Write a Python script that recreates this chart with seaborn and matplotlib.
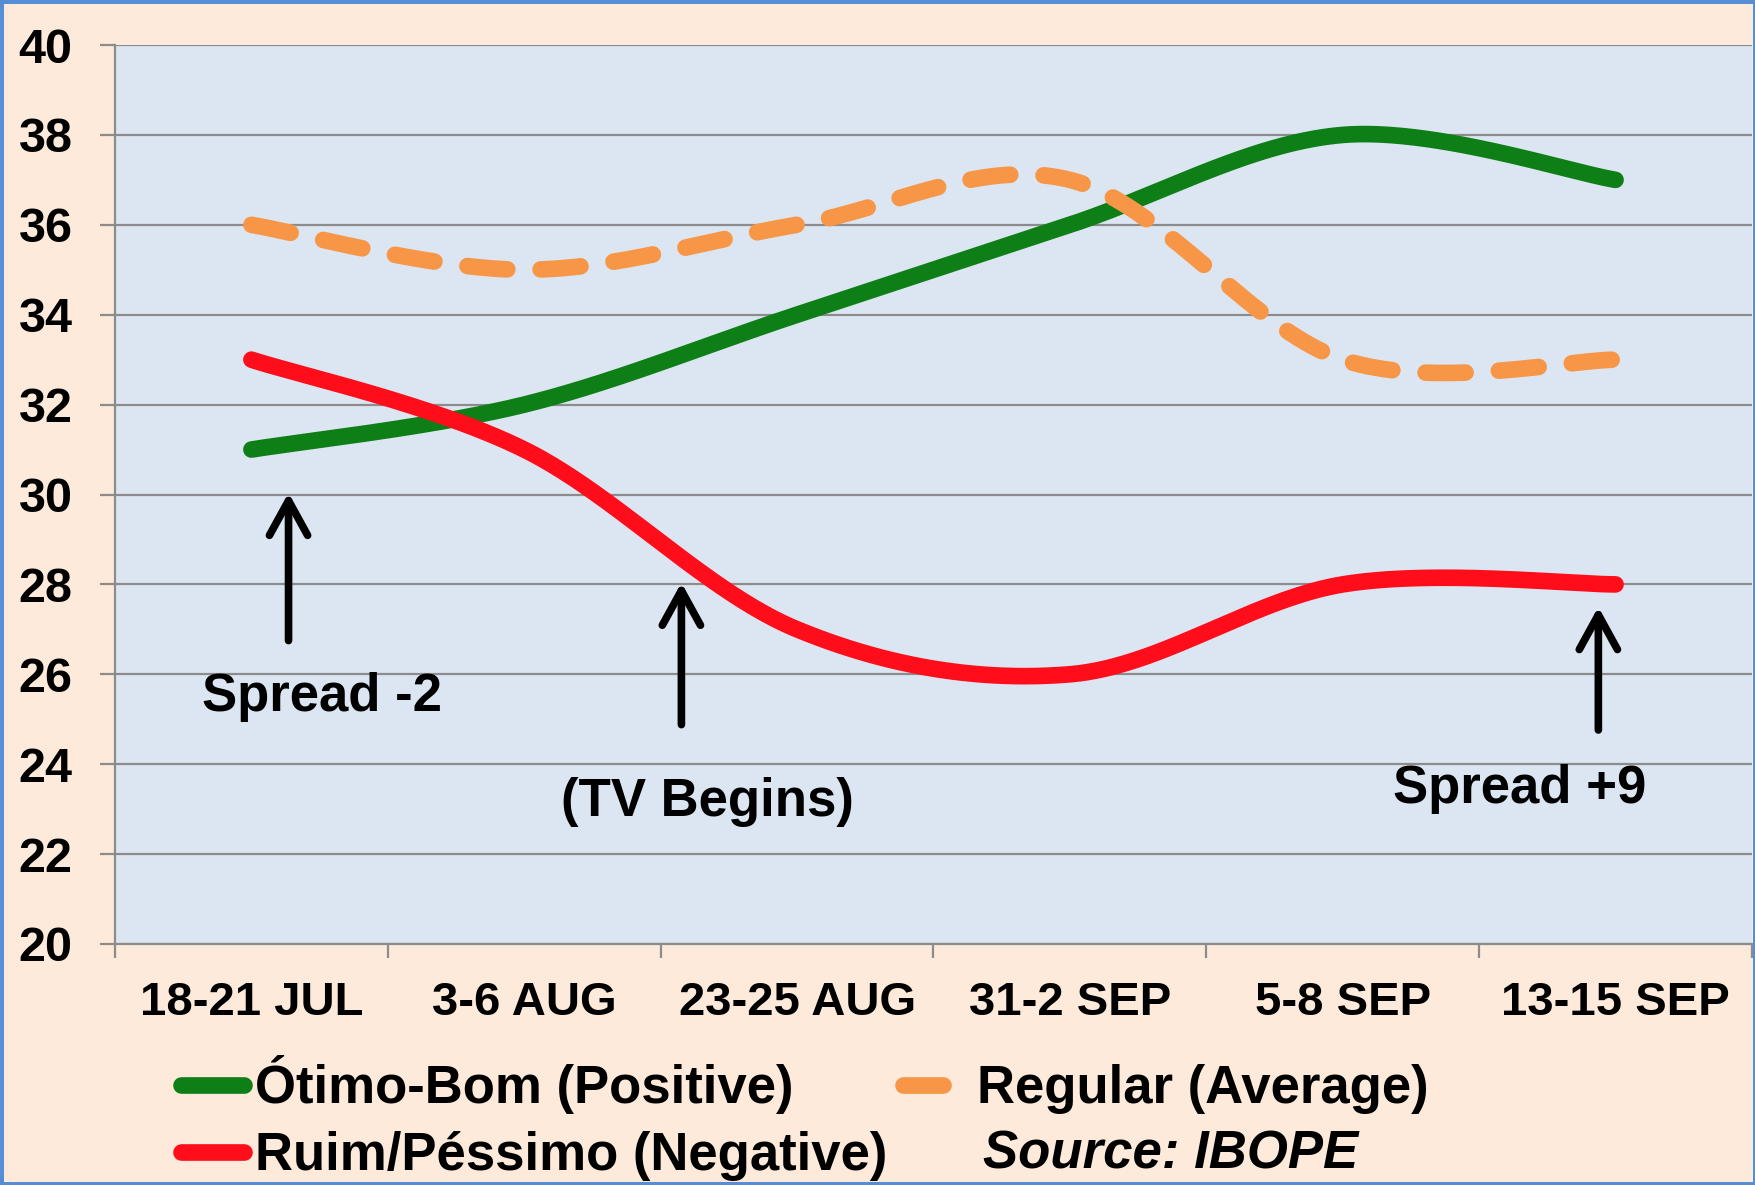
import numpy as np
import pandas as pd
import matplotlib
matplotlib.use("Agg")
import matplotlib.pyplot as plt
import seaborn as sns

periodos = ["18-21 JUL", "3-6 AUG", "23-25 AUG", "31-2 SEP", "5-8 SEP", "13-15 SEP"]
positivo = [31, 32, 34, 36, 38, 37]
regular = [36, 35, 36, 37, 33, 33]
negativo = [33, 31, 27, 26, 28, 28]

nomes = ["Ótimo-Bom (Positive)", "Regular (Average)", "Ruim/Péssimo (Negative)"]
colors = ["#0E7F16", "#F79646", "#FF0D1A"]

sns.set_theme(style="ticks")
plt.rcParams["font.family"] = ["Liberation Sans", "DejaVu Sans"]
plt.rcParams["font.weight"] = "bold"
plt.rcParams["text.color"] = "black"
plt.rcParams["xtick.labelcolor"] = "black"
plt.rcParams["ytick.labelcolor"] = "black"


def suavizar(valores, n=80):
    # linha suavizada como no Excel (bezier, controles a 1/6)
    y = np.asarray(valores, dtype=float)
    x = np.arange(len(y), dtype=float)
    px = np.concatenate([[x[0]], x, [x[-1]]])
    py = np.concatenate([[y[0]], y, [y[-1]]])
    t = np.linspace(0, 1, n)
    xs, ys = [], []
    for i in range(len(y) - 1):
        p0 = np.array([px[i + 1], py[i + 1]])
        p3 = np.array([px[i + 2], py[i + 2]])
        c1 = p0 + (p3 - np.array([px[i], py[i]])) / 6
        c2 = p3 - (np.array([px[i + 3], py[i + 3]]) - p0) / 6
        b = ((1 - t) ** 3)[:, None] * p0 + (3 * (1 - t) ** 2 * t)[:, None] * c1 \
            + (3 * (1 - t) * t ** 2)[:, None] * c2 + (t ** 3)[:, None] * p3
        xs.append(b[:, 0])
        ys.append(b[:, 1])
    return pd.DataFrame({"x": np.concatenate(xs), "y": np.concatenate(ys)})


fig = plt.figure(figsize=(17.56, 11.85), dpi=100)
fig.patch.set_facecolor("#FDEADA")
fig.patch.set_edgecolor("#558ED5")
fig.patch.set_linewidth(5)
ax = fig.add_axes([0.0655, 0.2034, 0.9322, 0.7586])
ax.set_facecolor("#DCE6F2")

handles = []
for serie, nome, cor in zip([positivo, regular, negativo], nomes, colors):
    curva = suavizar(serie)
    sns.lineplot(data=curva, x="x", y="y", ax=ax, color=cor, linewidth=12,
                 solid_capstyle="round", dash_capstyle="round", sort=False,
                 estimator=None, label=nome)
    linha = ax.lines[-1]
    if nome.startswith("Regular"):
        linha.set_dashes((2.4, 2.0))
    handles.append(linha)

ax.set_xlim(-0.5, 5.5)
ax.set_ylim(20, 40)
ax.set_yticks(range(20, 41, 2))
ax.set_xticks(range(len(periodos)))
ax.set_xticklabels(periodos)
ax.set_xticks(np.arange(-0.5, 6, 1), minor=True)
ax.set(xlabel="", ylabel="")

ax.grid(axis="y", color="#8C8C8C", linewidth=1.6)
ax.set_axisbelow(True)
for lado in ["top", "right"]:
    ax.spines[lado].set_visible(False)
for lado in ["left", "bottom"]:
    ax.spines[lado].set_color("#8C8C8C")
    ax.spines[lado].set_linewidth(1.6)

ax.tick_params(axis="y", length=10.5, width=1.6, color="#8C8C8C", pad=20, labelsize=35)
ax.tick_params(axis="x", which="major", length=0, pad=27, labelsize=34)
ax.tick_params(axis="x", which="minor", length=10, width=1.6, color="#8C8C8C")

seta = dict(arrowstyle="->,head_length=1.0,head_width=0.55", lw=5.5, color="black",
            mutation_scale=25, shrinkA=0, shrinkB=0)
ax.annotate("", xy=(0.136, 30.04), xytext=(0.136, 26.75), arrowprops=seta)
ax.annotate("", xy=(1.576, 28.04), xytext=(1.576, 24.88), arrowprops=seta)
ax.annotate("", xy=(4.937, 27.5), xytext=(4.937, 24.76), arrowprops=seta)

ax.text(0.259, 25.5, "Spread -2", fontsize=38, ha="center", va="center")
ax.text(1.671, 23.16, "(TV Begins)", fontsize=38, ha="center", va="center")
ax.text(4.65, 23.44, "Spread +9", fontsize=38, ha="center", va="center")

ax.get_legend().remove()
fig.legend(handles=[handles[0], handles[2], handles[1]],
           labels=[nomes[0], nomes[2], nomes[1]],
           ncol=2, loc="center left", bbox_to_anchor=(0.103, 0.0565),
           frameon=False, prop=dict(weight="bold", size=38),
           handlelength=1.2, handletextpad=0.2, columnspacing=0.3,
           labelspacing=0.32, borderpad=0, borderaxespad=0)
fig.text(0.56, 0.026, "Source: IBOPE", fontsize=38, fontstyle="italic",
         fontweight="bold", va="center")

fig.savefig("out.png", dpi=100, facecolor=fig.get_facecolor(), edgecolor=fig.get_edgecolor())
